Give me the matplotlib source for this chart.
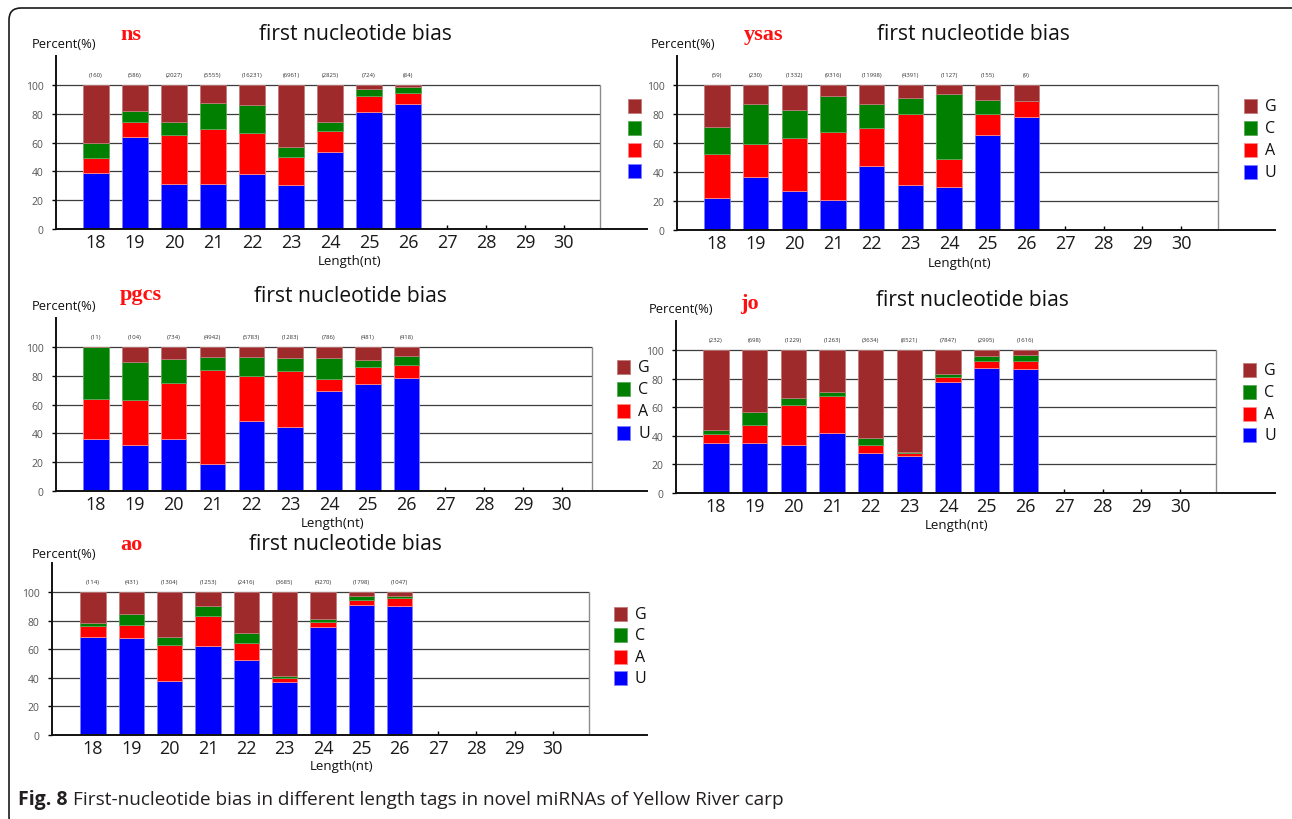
import matplotlib
matplotlib.use("Agg")
import matplotlib.pyplot as plt
from matplotlib.patches import Rectangle, FancyBboxPatch
from matplotlib.transforms import IdentityTransform

plt.rcParams['font.family'] = ['Open Sans', 'DejaVu Sans']

W, H = 1292, 820

lengths = list(range(18, 31))
bar_lengths = list(range(18, 27))
bases = ['U', 'A', 'C', 'G']
legend_order = ['G', 'C', 'A', 'U']
face = {'U': '#0000ff', 'A': '#ff0000', 'C': '#007f00', 'G': '#9e2a2b'}
edge = {'U': '#8080ff', 'A': '#ff8a8a', 'C': '#5aa85a', 'G': '#c27a7a'}

# percentages of each first base, per tag length 18..26
ns_counts = [160, 586, 2027, 5555, 16231, 6961, 2825, 724, 84]
ns_U = [38.8, 64.0, 31.4, 31.4, 37.9, 30.3, 53.8, 81.5, 87.1]
ns_A = [10.4, 10.4, 34.0, 38.1, 29.1, 19.6, 14.1, 11.1, 7.4]
ns_C = [10.6, 7.8, 9.2, 18.3, 19.4, 7.1, 6.7, 4.6, 4.3]
ns_G = [40.2, 17.8, 25.4, 12.2, 13.6, 43.0, 25.4, 2.8, 1.2]

ysas_counts = [59, 230, 1332, 9316, 11998, 4391, 1127, 155, 9]
ysas_U = [22.0, 36.8, 27.1, 20.6, 44.2, 30.8, 29.6, 65.3, 77.8]
ysas_A = [30.5, 22.7, 36.3, 47.0, 26.2, 49.5, 19.7, 14.6, 11.3]
ysas_C = [18.6, 27.1, 19.5, 24.5, 16.2, 10.7, 44.2, 9.9, 0.0]
ysas_G = [28.9, 13.4, 17.1, 7.9, 13.4, 9.0, 6.5, 10.2, 10.9]

pgcs_counts = [11, 104, 734, 4942, 5783, 1283, 786, 481, 418]
pgcs_U = [36.2, 32.0, 36.2, 18.7, 48.4, 44.5, 69.4, 74.2, 78.3]
pgcs_A = [27.9, 31.1, 38.9, 65.2, 31.3, 39.1, 8.7, 11.7, 9.0]
pgcs_C = [35.9, 26.3, 16.4, 9.2, 13.4, 8.8, 14.3, 4.9, 6.5]
pgcs_G = [0.0, 10.6, 8.5, 6.9, 6.9, 7.6, 7.6, 9.2, 6.2]

jo_counts = [232, 698, 1229, 1263, 3634, 8521, 7847, 2995, 1616]
jo_U = [34.8, 34.8, 33.4, 42.3, 28.3, 25.7, 77.3, 87.1, 86.4]
jo_A = [6.3, 13.1, 27.8, 25.2, 5.1, 2.1, 3.5, 5.2, 6.1]
jo_C = [3.3, 8.9, 4.9, 3.3, 5.4, 1.2, 2.1, 3.5, 3.8]
jo_G = [55.6, 43.2, 33.9, 29.2, 61.2, 71.0, 17.1, 4.2, 3.7]

ao_counts = [114, 431, 1304, 1253, 2416, 3685, 4270, 1798, 1047]
ao_U = [68.2, 67.8, 37.9, 62.1, 52.3, 36.9, 75.2, 91.1, 90.2]
ao_A = [8.0, 9.3, 25.2, 21.1, 11.7, 3.1, 3.5, 3.5, 5.6]
ao_C = [1.8, 7.7, 5.1, 7.2, 7.0, 1.6, 2.4, 2.4, 1.6]
ao_G = [22.0, 15.2, 31.8, 9.6, 29.0, 58.4, 18.9, 3.0, 2.6]

samples = [
    ('ns', ns_counts, {'U': ns_U, 'A': ns_A, 'C': ns_C, 'G': ns_G}),
    ('ysas', ysas_counts, {'U': ysas_U, 'A': ysas_A, 'C': ysas_C, 'G': ysas_G}),
    ('pgcs', pgcs_counts, {'U': pgcs_U, 'A': pgcs_A, 'C': pgcs_C, 'G': pgcs_G}),
    ('jo', jo_counts, {'U': jo_U, 'A': jo_A, 'C': jo_C, 'G': jo_G}),
    ('ao', ao_counts, {'U': ao_U, 'A': ao_A, 'C': ao_C, 'G': ao_G}),
]

# pixel layout of each small plot:
# y-axis x, axis-line end, x of 18, x of 30, y of 0, y of 100, box right
layout = [
    dict(L=56, R=647, x18=96, x30=564, y0=230, y100=86, box=600,
         title=(355, 34), name=(120, 35), perc=(32, 44), xlab=(350, 262),
         leg=(628, [107, 129, 151, 172]), leg_text=False),
    dict(L=677, R=1275, x18=717, x30=1181, y0=231, y100=86, box=1218,
         title=(973, 35), name=(744, 35), perc=(651, 45), xlab=(960, 263),
         leg=(1244, [107, 129, 151, 173]), leg_text=True),
    dict(L=56, R=647, x18=96, x30=562, y0=492, y100=348, box=592,
         title=(350, 296), name=(120, 295), perc=(32, 306), xlab=(333, 523),
         leg=(617, [368, 390, 412, 434]), leg_text=True),
    dict(L=676, R=1275, x18=716, x30=1180, y0=494, y100=351, box=1216,
         title=(972, 300), name=(740, 304), perc=(649, 310), xlab=(957, 525),
         leg=(1243, [371, 393, 415, 436]), leg_text=True),
    dict(L=52, R=647, x18=93, x30=553, y0=736, y100=593, box=589,
         title=(345, 544), name=(120, 545), perc=(32, 554), xlab=(342, 767),
         leg=(614, [615, 636, 658, 679]), leg_text=True),
]


def fx(x):
    return x / W


def fy(y):
    return 1 - y / H


fig = plt.figure(figsize=(W / 100, H / 100), dpi=100)
fig.patch.set_facecolor('white')

for (name, counts, pct), p in zip(samples, layout):
    sp = (p['x30'] - p['x18']) / 12
    unit = (p['y0'] - p['y100']) / 100
    top = p['y0'] - 120 * unit
    ax = fig.add_axes([fx(p['L']), fy(p['y0']), (p['R'] - p['L']) / W, (p['y0'] - top) / H])
    ax.patch.set_alpha(0)
    x_lo = 18 - (p['x18'] - p['L']) / sp
    x_hi = 30 + (p['R'] - p['x30']) / sp
    box_r = 30 + (p['box'] - p['x30']) / sp
    ax.set_xlim(x_lo, x_hi)
    ax.set_ylim(0, 120)

    # frame and grid of the plotting box
    ax.hlines([20, 40, 60, 80, 100], x_lo, box_r, color='#3c3c3c', lw=0.9, zorder=0)
    ax.vlines(box_r, 0, 100, color='#8c8c8c', lw=1.0, zorder=0)

    bottom = [0.0] * len(bar_lengths)
    for b in bases:
        ax.bar(bar_lengths, pct[b], width=0.66, bottom=bottom, color=face[b],
               edgecolor=edge[b], linewidth=0.6, zorder=2)
        bottom = [s + v for s, v in zip(bottom, pct[b])]

    for x, c in zip(bar_lengths, counts):
        ax.text(x, 107, f'({c})', ha='center', va='center', fontsize=4.3, color='#333333')

    for s in ['top', 'right']:
        ax.spines[s].set_visible(False)
    for s in ['left', 'bottom']:
        ax.spines[s].set_color('#111111')
        ax.spines[s].set_linewidth(1.4)
    ax.spines['left'].set_bounds(0, 120)

    ax.set_xticks(lengths)
    ax.set_yticks([0, 20, 40, 60, 80, 100])
    ax.tick_params(axis='x', direction='in', length=3, width=1, labelsize=13,
                   labelcolor='#1a1a1a', pad=3)
    ax.tick_params(axis='y', direction='out', length=3, width=1, labelsize=7.5,
                   labelcolor='#555555', pad=6)

    fig.text(fx(p['title'][0]), fy(p['title'][1]), 'first nucleotide bias',
             ha='center', va='center', fontsize=15.2, color='#111111')
    fig.text(fx(p['name'][0]), fy(p['name'][1]), name, ha='left', va='center',
             fontsize=16, fontweight='bold', family='Liberation Serif', color='#ff1010')
    fig.text(fx(p['perc'][0]), fy(p['perc'][1]), 'Percent(%)', ha='left', va='center',
             fontsize=9.3, color='#111111')
    fig.text(fx(p['xlab'][0]), fy(p['xlab'][1]), 'Length(nt)', ha='center', va='center',
             fontsize=9.5, color='#111111')

    lx, lys = p['leg']
    for b, ly in zip(legend_order, lys):
        fig.add_artist(Rectangle((fx(lx), fy(ly + 7)), 13 / W, 14 / H,
                                 facecolor=face[b], edgecolor=edge[b], lw=0.6,
                                 transform=fig.transFigure))
        if p['leg_text']:
            fig.text(fx(lx + 21), fy(ly), b, ha='left', va='center',
                     fontsize=11.5, color='#111111')

# caption
cap = fig.text(fx(18), fy(800), 'Fig. 8', ha='left', va='center',
               fontsize=14, fontweight='bold', color='#231f20')
fig.add_artist(plt.Annotation(
    'First-nucleotide bias in different length tags in novel miRNAs of Yellow River carp',
    xy=(1, 0.5), xycoords=cap, xytext=(4, 0), textcoords='offset points',
    ha='left', va='center', fontsize=13.7, color='#231f20'))

# rounded outer frame
fig.add_artist(FancyBboxPatch((9, H - 830), 1300, 821,
                              boxstyle='round,pad=0,rounding_size=12',
                              transform=IdentityTransform(), fill=False,
                              edgecolor='#1a1a1a', lw=1.2))

fig.savefig('out.png', dpi=100, facecolor='white')
